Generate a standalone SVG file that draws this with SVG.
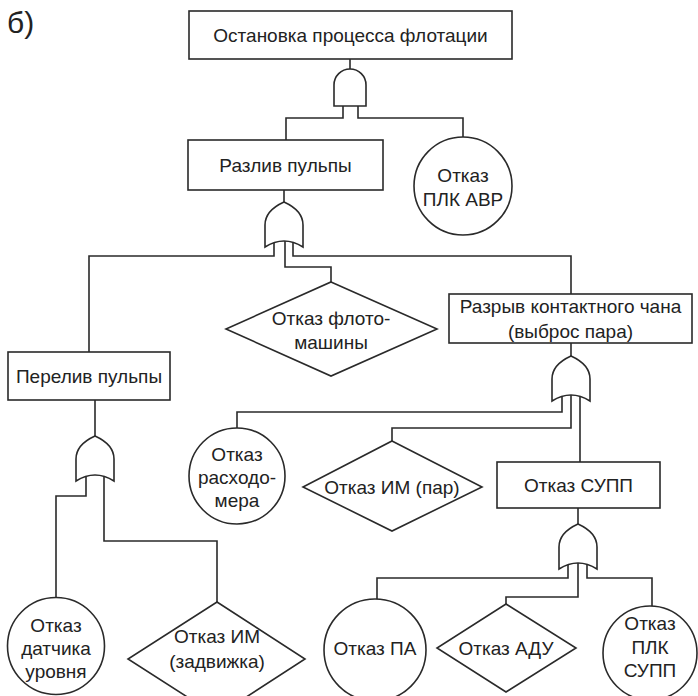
<svg xmlns="http://www.w3.org/2000/svg" xmlns:xlink="http://www.w3.org/1999/xlink" width="698" height="696" viewBox="0 0 698 696">
<style>
.s{fill:#fff;stroke:#2a2a2a;stroke-width:1.6}
.c{fill:none;stroke:#2a2a2a;stroke-width:1.6}
.t{font-family:"Liberation Sans",Arial,sans-serif;font-size:19px;fill:#222;text-anchor:middle;dominant-baseline:central}
</style>
<defs>
<path id="or" class="s" d="M0,0 C-11,5 -19,13 -19,23 L-19,45 Q0,33 19,45 L19,23 C19,13 11,5 0,0 Z"/>
</defs>
<rect width="698" height="696" fill="#fff"/>
<text x="7" y="33" style="font-family:'Liberation Sans',Arial,sans-serif;font-size:30px;fill:#222">б)</text>

<g id="connectors">
<path class="c" d="M350,59 V69"/>
<path class="c" d="M343,106 V118 H286 V140"/>
<path class="c" d="M358,106 V118 H463 V137"/>
<path class="c" d="M284,190 V202"/>
<path class="c" d="M274,243 V256 H89 V352"/>
<path class="c" d="M285,241 V267 H331 V282"/>
<path class="c" d="M293,242 V256 H571 V294"/>
<path class="c" d="M571,343 V356"/>
<path class="c" d="M562,397 V412 H237 V428"/>
<path class="c" d="M571,395 V428 H392 V441"/>
<path class="c" d="M580,396 V462"/>
<path class="c" d="M578,508 V524"/>
<path class="c" d="M568,565 V578 H377 V599"/>
<path class="c" d="M578,563 V597 H506 V604"/>
<path class="c" d="M587,564 V578 H652 V606"/>
<path class="c" d="M95,400 V436"/>
<path class="c" d="M86,477 V496 H56 V597"/>
<path class="c" d="M104,477 V541 H217 V602"/>
</g>

<g id="top">
<rect class="s" x="189" y="11" width="323" height="48"/>
<text class="t" x="350.5" y="35">Остановка процесса флотации</text>
</g>
<g id="and1">
<path class="s" d="M334,106 L334,85 A16,16 0 0 1 366,85 L366,106 Z"/>
</g>
<g id="razliv">
<rect class="s" x="188" y="140" width="195" height="50"/>
<text class="t" x="285.5" y="165">Разлив пульпы</text>
</g>
<g id="plc_avr">
<circle class="s" cx="463" cy="186" r="49"/>
<text class="t" x="463" y="175">Отказ</text>
<text class="t" x="463" y="199">ПЛК АВР</text>
</g>
<g id="or1"><use xlink:href="#or" x="284" y="202"/></g>
<g id="floto">
<polygon class="s" points="331,282 437,329 331,376 226,329"/>
<text class="t" x="331" y="318">Отказ флото-</text>
<text class="t" x="331" y="342">машины</text>
</g>
<g id="razryv">
<rect class="s" x="449" y="294" width="243" height="49"/>
<text class="t" x="570.5" y="306">Разрыв контактного чана</text>
<text class="t" x="570.5" y="331">(выброс пара)</text>
</g>
<g id="pereliv">
<rect class="s" x="8" y="352" width="162" height="48"/>
<text class="t" x="89" y="376">Перелив пульпы</text>
</g>
<g id="or2"><use xlink:href="#or" x="571" y="356"/></g>
<g id="rashod">
<circle class="s" cx="237" cy="476" r="48"/>
<text class="t" x="237" y="454">Отказ</text>
<text class="t" x="237" y="477">расходо-</text>
<text class="t" x="237" y="500">мера</text>
</g>
<g id="im_par">
<polygon class="s" points="392,441 482,487 392,531 303,487"/>
<text class="t" x="392" y="487">Отказ ИМ (пар)</text>
</g>
<g id="supp">
<rect class="s" x="497" y="462" width="163" height="46"/>
<text class="t" x="578.5" y="485">Отказ СУПП</text>
</g>
<g id="or3"><use xlink:href="#or" x="578" y="524"/></g>
<g id="or4"><use xlink:href="#or" x="95" y="436"/></g>
<g id="datchik">
<circle class="s" cx="56" cy="646" r="48.5"/>
<text class="t" x="56" y="625">Отказ</text>
<text class="t" x="56" y="648">датчика</text>
<text class="t" x="56" y="671">уровня</text>
</g>
<g id="im_zadv">
<polygon class="s" points="217,602 305,659 217,716 128,659"/>
<text class="t" x="217" y="636">Отказ ИМ</text>
<text class="t" x="217" y="661">(задвижка)</text>
</g>
<g id="pa">
<circle class="s" cx="375" cy="650" r="51"/>
<text class="t" x="375" y="648">Отказ ПА</text>
</g>
<g id="adu">
<polygon class="s" points="506,604 576,648 506,692 437,648"/>
<text class="t" x="506" y="648">Отказ АДУ</text>
</g>
<g id="plc_supp">
<circle class="s" cx="650" cy="653" r="47"/>
<text class="t" x="650" y="623">Отказ</text>
<text class="t" x="650" y="647">ПЛК</text>
<text class="t" x="650" y="670">СУПП</text>
</g>
</svg>
